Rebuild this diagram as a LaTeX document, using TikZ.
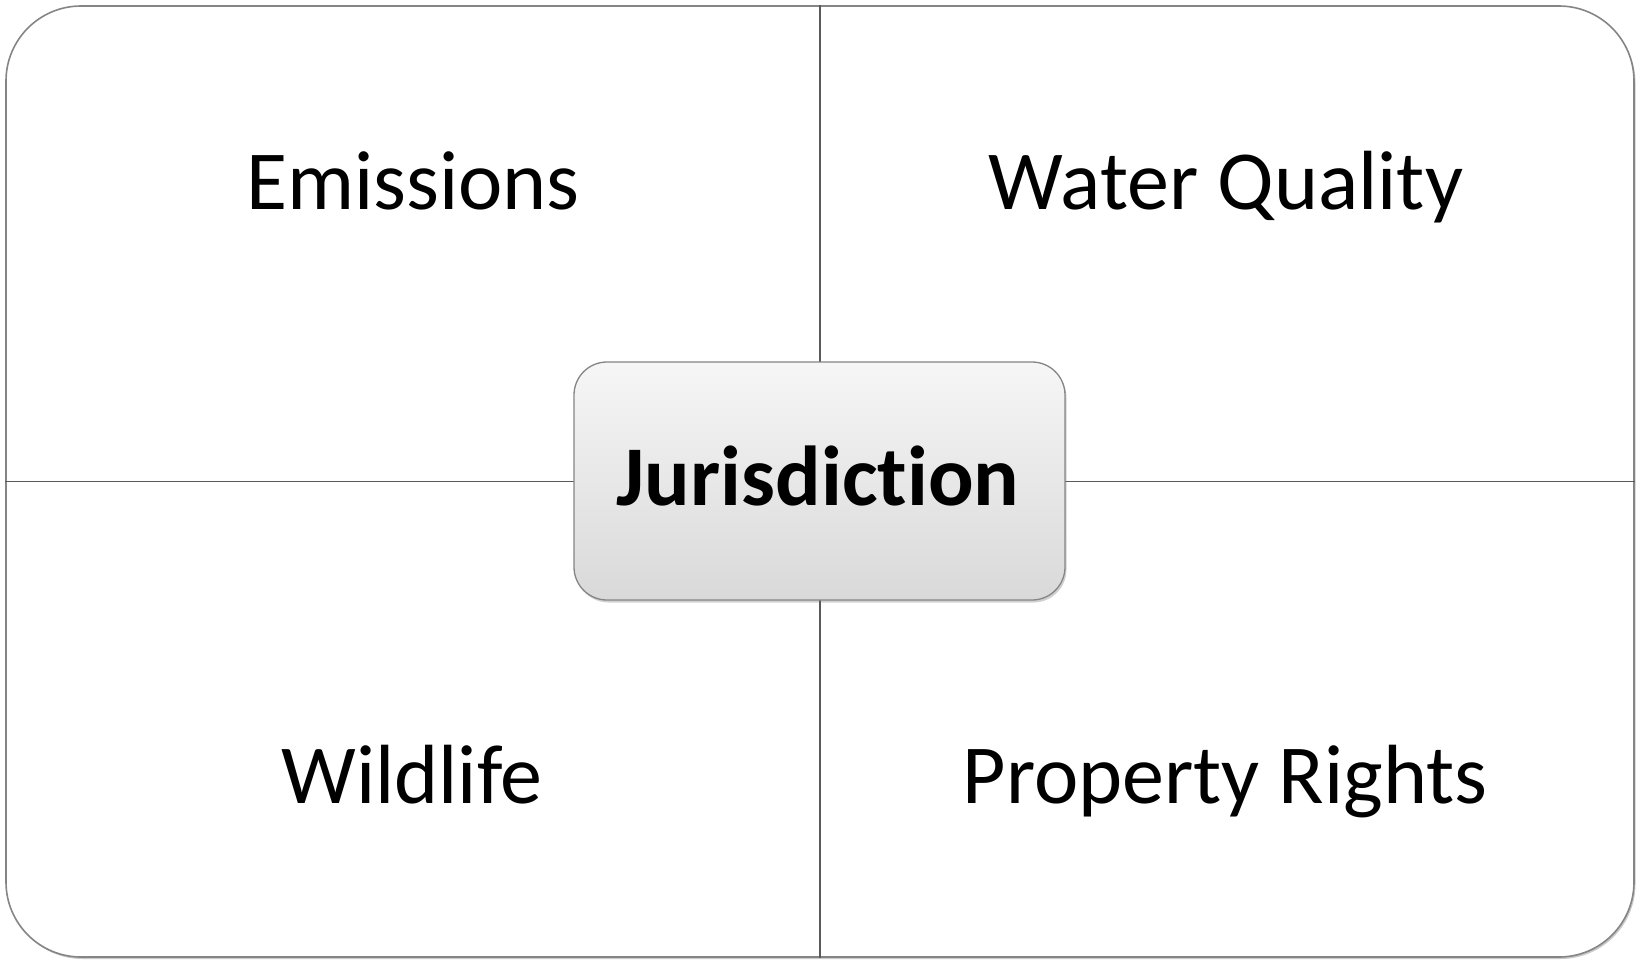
\documentclass[tikz,border=0pt]{standalone}
\usepackage{fontspec}
\setmainfont[Ligatures=NoCommon]{Carlito}
\usetikzlibrary{shadows}
\definecolor{framegray}{HTML}{858585}
\definecolor{divgray}{HTML}{5A5A5A}
\definecolor{boxtop}{HTML}{F6F6F6}
\definecolor{boxbot}{HTML}{D9D9D9}
\tikzset{
  frame/.style={draw=framegray, line width=1.6pt, rounded corners=75pt, fill=white,
    minimum width=1628pt, minimum height=951pt, inner sep=0pt,
    drop shadow={shadow xshift=1.5pt, shadow yshift=-2pt, opacity=0.35, fill=black!60}},
  divider/.style={draw=divgray, line width=1.3pt},
  quad/.style={font=\fontsize{84}{100}\selectfont, text=black, inner sep=0pt, anchor=base},
  hub/.style={draw=framegray, line width=1.3pt, rounded corners=33pt,
    top color=boxtop, bottom color=boxbot,
    minimum width=491pt, minimum height=238pt, inner sep=0pt,
    drop shadow={shadow xshift=1.5pt, shadow yshift=-2.5pt, opacity=0.3, fill=black!60}},
  hubtext/.style={font=\bfseries\fontsize{85}{100}\selectfont, inner sep=0pt, anchor=base}
}
\begin{document}
\begin{tikzpicture}[x=1pt,y=-1pt]
\useasboundingbox (0,0) rectangle (1639,959);
\node[frame] (outer) at (820,481.5) {};
\draw[divider] (outer.north) -- (outer.south);
\draw[divider] (outer.west) -- (outer.east);
\node[quad] (emis) at (413,209) {Emissions};
\node[quad] (water) at (1226,209) {Water Quality};
\node[quad] (wild) at (412,803) {Wildlife};
\node[quad] (prop) at (1225,803) {Property Rights};
\node[hub] (jur) at (819.5,481) {};
\node[hubtext] (jurtext) at (818,505) {Jurisdiction};
\end{tikzpicture}
\end{document}
